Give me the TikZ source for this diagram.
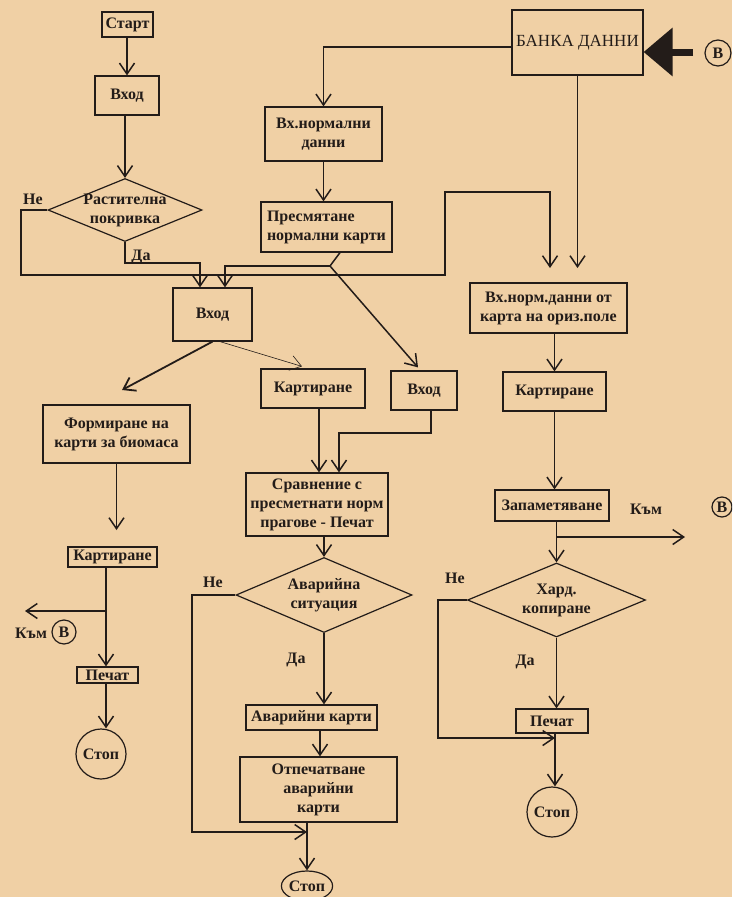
\documentclass[tikz,border=0pt]{standalone}
\usepackage{fontspec}
\setmainfont{Liberation Serif}
\usetikzlibrary{arrows.meta,shapes.geometric,calc}
\definecolor{paper}{RGB}{240,208,165}
\definecolor{ink}{RGB}{35,28,25}
\begin{document}
\begin{tikzpicture}[x=1pt,y=-1pt,
  txt/.style={font=\bfseries\fontsize{16}{19}\selectfont, text=ink},
  box/.style={txt, draw=ink, line width=1.2pt, inner sep=0pt, align=center},
  dia/.style={txt, draw=ink, line width=1.2pt, inner sep=-8pt, align=center, shape=diamond, aspect=2.4},
  circ/.style={txt, draw=ink, line width=1.2pt, inner sep=0pt, shape=circle},
  lbl/.style={txt, inner sep=0pt},
  ln/.style={draw=ink, line width=1.5pt},
  arr/.style={-{Straight Barb[length=11pt,width=15pt]}}
]
\clip (0,0) rectangle (732,897);
\fill[paper] (0,0) rectangle (732,897);

% nodes
\node[box,minimum width=51pt,minimum height=25pt] (start) at (127.5,24.5) {Старт};
\node[box,minimum width=64pt,minimum height=39pt] (in1) at (127,95.5) {Вход};
\node[dia,minimum width=154pt,minimum height=63pt] (d1) at (125,210) {Растителна\\покривка};
\node[box,minimum width=131pt,minimum height=65pt,font=\fontsize{17}{19}\selectfont] (banka) at (577.5,42.5) {БАНКА ДАННИ};
\node[box,minimum width=117pt,minimum height=54pt] (vxnd) at (323.5,134) {Вх.нормални\\данни};
\node[box,minimum width=131pt,minimum height=50pt,align=left] (presm) at (326.5,227) {Пресмятане\\нормални карти};
\node[box,minimum width=79pt,minimum height=53pt] (in2) at (212.5,314.5) {Вход};
\node[box,minimum width=157pt,minimum height=50pt] (vxnd2) at (548.5,308) {Вх.норм.данни от\\карта на ориз.поле};
\node[box,minimum width=147pt,minimum height=58pt] (form) at (116.5,434) {Формиране на\\карти за биомаса};
\node[box,minimum width=104pt,minimum height=39pt] (kart1) at (313,388.5) {Картиране};
\node[box,minimum width=66pt,minimum height=39pt] (in3) at (424,390.5) {Вход};
\node[box,minimum width=103pt,minimum height=39pt] (kart2) at (554.5,391.5) {Картиране};
\node[box,minimum width=142pt,minimum height=63pt] (sravn) at (317,504.5) {Сравнение с\\пресметнати норм\\прагове - Печат};
\node[box,minimum width=114pt,minimum height=31pt] (zapam) at (552,505.5) {Запаметяване};
\node[box,minimum width=89pt,minimum height=20pt] (kart0) at (112.5,557) {Картиране};
\node[dia,minimum width=176pt,minimum height=75pt] (d2) at (324,595) {Аварийна\\ситуация};
\node[dia,minimum width=178pt,minimum height=74pt] (d3) at (556.5,600) {Хард.\\копиране};
\node[box,minimum width=61pt,minimum height=16pt] (pech0) at (107.5,675) {Печат};
\node[circ,minimum size=50pt] (stop0) at (101,754) {Стоп};
\node[box,minimum width=131pt,minimum height=25pt] (avk) at (311.5,717.5) {Аварийни карти};
\node[box,minimum width=72pt,minimum height=24pt] (pech2) at (552,721) {Печат};
\node[box,minimum width=157pt,minimum height=65pt] (otp) at (318.5,789.5) {Отпечатване\\аварийни\\карти};
\node[circ,minimum size=50pt] (stop2) at (552,812) {Стоп};
\node[txt,draw=ink,line width=1.2pt,inner sep=0pt,shape=ellipse,minimum width=50pt,minimum height=30pt] (stop1) at (307,886) {Стоп};

% labels
\node[lbl] (ne1) at (33,199) {Не};
\node[lbl] (da1) at (141,257) {Да};
\node[lbl] (ne2) at (213,582) {Не};
\node[lbl] (da2) at (296,660) {Да};
\node[lbl] (ne3) at (455,578) {Не};
\node[lbl] (da3) at (525,662) {Да};
\node[lbl] (kam1) at (31,633) {Към};
\node[circ,minimum size=24pt] (b1) at (64,632) {В};
\node[lbl] (kam2) at (646,509) {Към};
\node[circ,minimum size=20pt] (b2) at (722,507) {В};
\node[circ,minimum size=26pt] (b0) at (718,53) {В};

% coordinates
\coordinate (e1) at (550,268);
\coordinate (e2) at (122,390);
\coordinate (e3) at (116.5,530);
\coordinate (e4) at (25,611);
\coordinate (e5) at (577.5,268);
\coordinate (e6) at (685,537);
\coordinate (j1) at (330,266);
\coordinate (j2) at (106,611);
\coordinate (j3) at (556.5,537);
\coordinate (j4) at (555,738);
\coordinate (j5) at (307,832);
\coordinate (bsrc) at (693,52);

% connectors
\draw[ln,arr] (start.south -| in1.north) -- (in1.north);
\draw[ln,arr] (in1.south -| d1.north) -- (d1.north);
\draw[ln,arr] (d1.west) -- (21,210) -- (21,275) -- (445,275) -- (445,192) -- (550,192) -- (e1);
\draw[ln,arr] (d1.south) |- (200,263) -- ($(in2.north)+(-12.5,0)$);
\draw[ln] ($(presm.south)+(13.5,0)$) -- (j1);
\draw[ln,arr] (j1) -- (225,266) -- ($(in2.north)+(12.5,0)$);
\draw[ln,arr] (j1) -- ($(in3.north)+(-6,-3)$);
\draw[ln,arr,line width=1.8pt] (in2.south) -- (e2);
\draw[draw=ink,line width=0.6pt,arr] ($(in2.south)+(7.5,0)$) -- ($(kart1.north)+(-11,-2)$);
\draw[ln,arr] (form.south) -- (e3);
\draw[ln,arr] (kart0.south -| j2) -- (pech0.north -| j2);
\draw[ln,arr] (j2) -- (e4);
\draw[ln,arr] (pech0.south -| j2) -- (j2 |- stop0.north);
\draw[ln,arr] ($(kart1.south)+(6,0)$) -- ($(sravn.north)+(2,0)$);
\draw[ln,arr] ($(in3.south)+(7,0)$) |- (339,433) -- ($(sravn.north)+(22,0)$);
\draw[ln,arr] (sravn.south -| d2.north) -- (d2.north);
\draw[ln,arr] ($(banka.west)+(0,4.5)$) -| (vxnd.north);
\draw[ln,arr] (banka.south) -- (e5);
\draw[ln,arr] (vxnd.south) -- (vxnd.south |- presm.north);
\draw[ln,arr] (kart2.north |- vxnd2.south) -- (kart2.north);
\draw[ln,arr] (kart2.south) -- (kart2.south |- zapam.north);
\draw[ln,arr] (zapam.south -| j3) -- (j3 |- d3.north);
\draw[ln,arr] (j3) -- (e6);
\draw[ln,arr] (d3.west) -- (438,600) |- (j4);
\draw[ln,arr] (d3.south) -- (d3.south |- pech2.north);
\draw[ln,arr] (pech2.south -| j4) -- (j4 |- stop2.north);
\draw[ln,arr] (d2.west) -- (192,595) |- (j5);
\draw[ln,arr] (d2.south) -- (d2.south |- avk.north);
\draw[ln,arr] ($(avk.south)+(8.5,0)$) -- ($(otp.north)+(1.5,0)$);
\draw[ln,arr] (otp.south -| j5) -- (j5 |- stop1.north);
\draw[draw=ink,line width=7pt,-{Triangle[length=29pt,width=47pt]}] (bsrc) -- (banka.east |- bsrc);
\end{tikzpicture}
\end{document}
